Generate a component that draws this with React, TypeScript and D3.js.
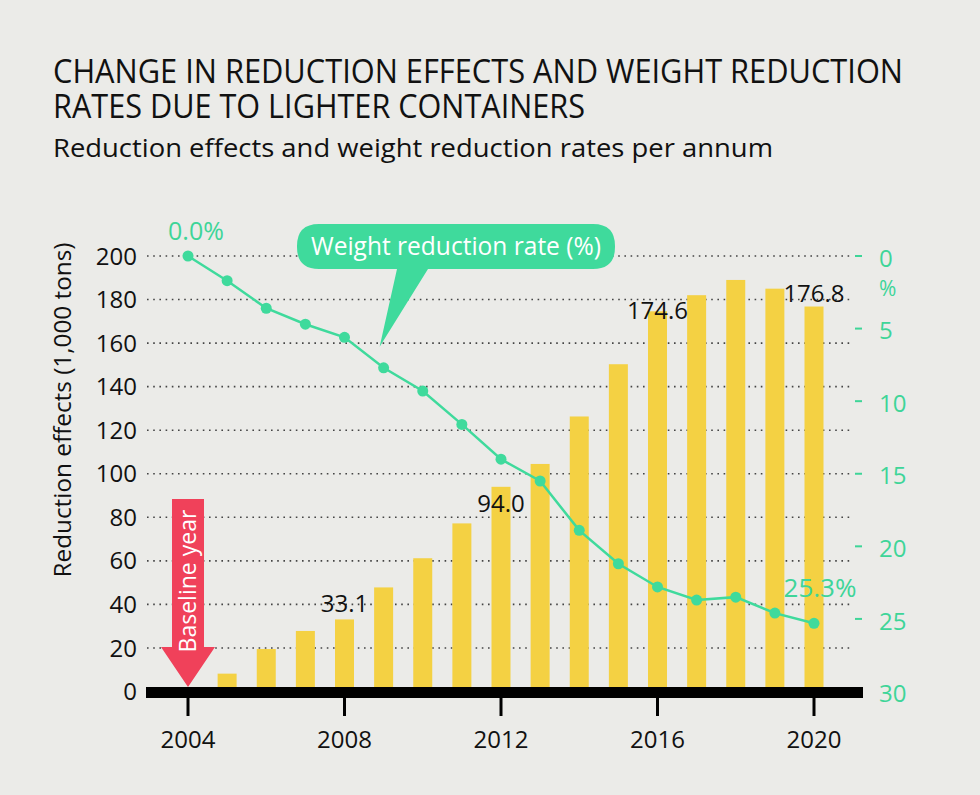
import React from "react";
import * as d3 from "d3";

const years = [2004, 2005, 2006, 2007, 2008, 2009, 2010, 2011, 2012, 2013, 2014, 2015, 2016, 2017, 2018, 2019, 2020];
const reductionEffects = [0, 8.2, 19.5, 27.8, 33.1, 47.8, 61.2, 77.2, 94.0, 104.5, 126.3, 150.3, 174.6, 182.0, 189.0, 185.0, 176.8];
const weightReductionRate = [0.0, 1.7, 3.6, 4.7, 5.6, 7.7, 9.3, 11.6, 14.0, 15.5, 18.9, 21.2, 22.8, 23.7, 23.5, 24.6, 25.3];
const leftTicks = [0, 20, 40, 60, 80, 100, 120, 140, 160, 180, 200];
const rightTicks = [0, 5, 10, 15, 20, 25, 30];
const yearTicks = [2004, 2008, 2012, 2016, 2020];
const barLabelYears = [2008, 2012, 2016, 2020];
const barLabelText = ["33.1", "94.0", "174.6", "176.8"];
const rateLabelYears = [2004, 2020];
const rateLabelText = ["0.0%", "25.3%"];

const titleLine1 = "CHANGE IN REDUCTION EFFECTS AND WEIGHT REDUCTION";
const titleLine2 = "RATES DUE TO LIGHTER CONTAINERS";
const subtitle = "Reduction effects and weight reduction rates per annum";
const yTitle = "Reduction effects (1,000 tons)";
const calloutText = "Weight reduction rate (%)";
const baselineText = "Baseline year";

const BG = "#ebebe8";
const YELLOW = "#f4d143";
const GREEN = "#3fda9c";
const GREEN_TEXT = "#3ed598";
const RED = "#f0415a";
const FONT = "'Open Sans', 'Noto Sans', sans-serif";

export default function App() {
  const W = 980, H = 795;
  const x = d3.scaleLinear().domain([2004, 2020]).range([188, 814]);
  const yL = d3.scaleLinear().domain([0, 200]).range([691.5, 256]);
  const yR = d3.scaleLinear().domain([0, 30]).range([256, 691.5]);
  const barW = 19;

  const line = d3
    .line<number>()
    .x((_, i) => x(years[i]))
    .y((d) => yR(d));

  const barLabelDy: Record<number, number> = { 2008: -7, 2012: 25, 2016: 8, 2020: -5 };

  // callout geometry
  const cx0 = 297, cx1 = 615, cy0 = 224, cy1 = 269, cr = 22;
  const tipX = x(2009) - 4;
  const tipY = yR(7.7) - 21;
  const calloutPath =
    `M${cx0 + cr},${cy0} H${cx1 - cr} Q${cx1},${cy0} ${cx1},${cy0 + cr} V${cy1 - cr} Q${cx1},${cy1} ${cx1 - cr},${cy1}` +
    ` H428 L${tipX},${tipY} L397,${cy1} H${cx0 + cr} Q${cx0},${cy1} ${cx0},${cy1 - cr} V${cy0 + cr} Q${cx0},${cy0} ${cx0 + cr},${cy0} Z`;

  // baseline arrow
  const ax = x(2004);
  const arrowPath = `M${ax - 16},499 H${ax + 16} V647 H${ax + 27} L${ax},687 L${ax - 27},647 H${ax - 16} Z`;

  return (
    <svg
      width={W}
      height={H}
      style={{ position: "absolute", left: 0, top: 0, display: "block" }}
      fontFamily={FONT}
    >
      <rect x={0} y={0} width={W} height={H} fill={BG} />

      {/* titles */}
      <text x={53} y={83} fontSize={33} fill="#111" textLength={850} lengthAdjust="spacingAndGlyphs">
        {titleLine1}
      </text>
      <text x={53} y={118} fontSize={33} fill="#111" textLength={532} lengthAdjust="spacingAndGlyphs">
        {titleLine2}
      </text>
      <text x={53} y={157} fontSize={25} fill="#111" textLength={720} lengthAdjust="spacingAndGlyphs">
        {subtitle}
      </text>

      {/* gridlines */}
      {leftTicks.filter((t) => t > 0).map((t) => (
        <line
          key={"g" + t}
          x1={147}
          x2={853}
          y1={yL(t)}
          y2={yL(t)}
          stroke="#444"
          strokeWidth={1.6}
          strokeDasharray="1.6 4.6"
        />
      ))}

      {/* left axis labels */}
      {leftTicks.map((t) => (
        <text key={"l" + t} x={137} y={yL(t)} dy="0.36em" textAnchor="end" fontSize={24} fill="#111">
          {t}
        </text>
      ))}
      <text
        transform={`translate(71,410) rotate(-90)`}
        textAnchor="middle"
        fontSize={23}
        fill="#111"
        textLength={335}
        lengthAdjust="spacingAndGlyphs"
      >
        {yTitle}
      </text>

      {/* right axis */}
      {rightTicks.map((t) => (
        <g key={"r" + t}>
          {t < 30 && <line x1={855} x2={862} y1={yR(t)} y2={yR(t)} stroke={GREEN_TEXT} strokeWidth={2} />}
          <text x={879} y={yR(t) + 2} dy="0.36em" fontSize={24} fill={GREEN_TEXT}>
            {t}
          </text>
        </g>
      ))}
      <text x={879} y={yR(0) + 32} dy="0.36em" fontSize={21} fill={GREEN_TEXT}>
        %
      </text>

      {/* bars */}
      {years.map((yr, i) =>
        reductionEffects[i] > 0 ? (
          <rect
            key={"b" + yr}
            x={x(yr) - barW / 2}
            y={yL(reductionEffects[i])}
            width={barW}
            height={yL(0) - yL(reductionEffects[i])}
            fill={YELLOW}
          />
        ) : null
      )}

      {/* bar labels */}
      {barLabelYears.map((yr, i) => {
        const v = reductionEffects[years.indexOf(yr)];
        return (
          <text
            key={"bl" + yr}
            x={x(yr)}
            y={yL(v) + barLabelDy[yr]}
            textAnchor="middle"
            fontSize={24}
            fill="#111"
          >
            {barLabelText[i]}
          </text>
        );
      })}

      {/* baseline black axis */}
      <rect x={146} y={687} width={717} height={11} fill="#000" />
      {yearTicks.map((yr) => (
        <g key={"t" + yr}>
          <line x1={x(yr)} x2={x(yr)} y1={697} y2={716} stroke="#000" strokeWidth={3} />
          <text x={x(yr)} y={748} textAnchor="middle" fontSize={24} fill="#111">
            {yr}
          </text>
        </g>
      ))}

      {/* baseline arrow */}
      <path d={arrowPath} fill={RED} />
      <text
        transform={`translate(${ax + 8},581) rotate(-90)`}
        textAnchor="middle"
        fontSize={24}
        fill="#fff"
        textLength={143}
        lengthAdjust="spacingAndGlyphs"
      >
        {baselineText}
      </text>

      {/* line */}
      <path d={line(weightReductionRate) || ""} fill="none" stroke={GREEN} strokeWidth={2.5} />
      {years.map((yr, i) => (
        <circle key={"c" + yr} cx={x(yr)} cy={yR(weightReductionRate[i])} r={5.5} fill={GREEN} />
      ))}
      {rateLabelYears.map((yr, i) => (
        <text
          key={"rl" + yr}
          x={x(yr) + (i === 0 ? 8 : 6)}
          y={yR(weightReductionRate[years.indexOf(yr)]) + (i === 0 ? -16 : -26)}
          textAnchor="middle"
          fontSize={i === 0 ? 25 : 26}
          fill={GREEN_TEXT}
        >
          {rateLabelText[i]}
        </text>
      ))}

      {/* callout */}
      <path d={calloutPath} fill={GREEN} />
      <text
        x={(cx0 + cx1) / 2}
        y={255}
        textAnchor="middle"
        fontSize={25}
        fill="#fff"
        textLength={290}
        lengthAdjust="spacingAndGlyphs"
      >
        {calloutText}
      </text>
    </svg>
  );
}
